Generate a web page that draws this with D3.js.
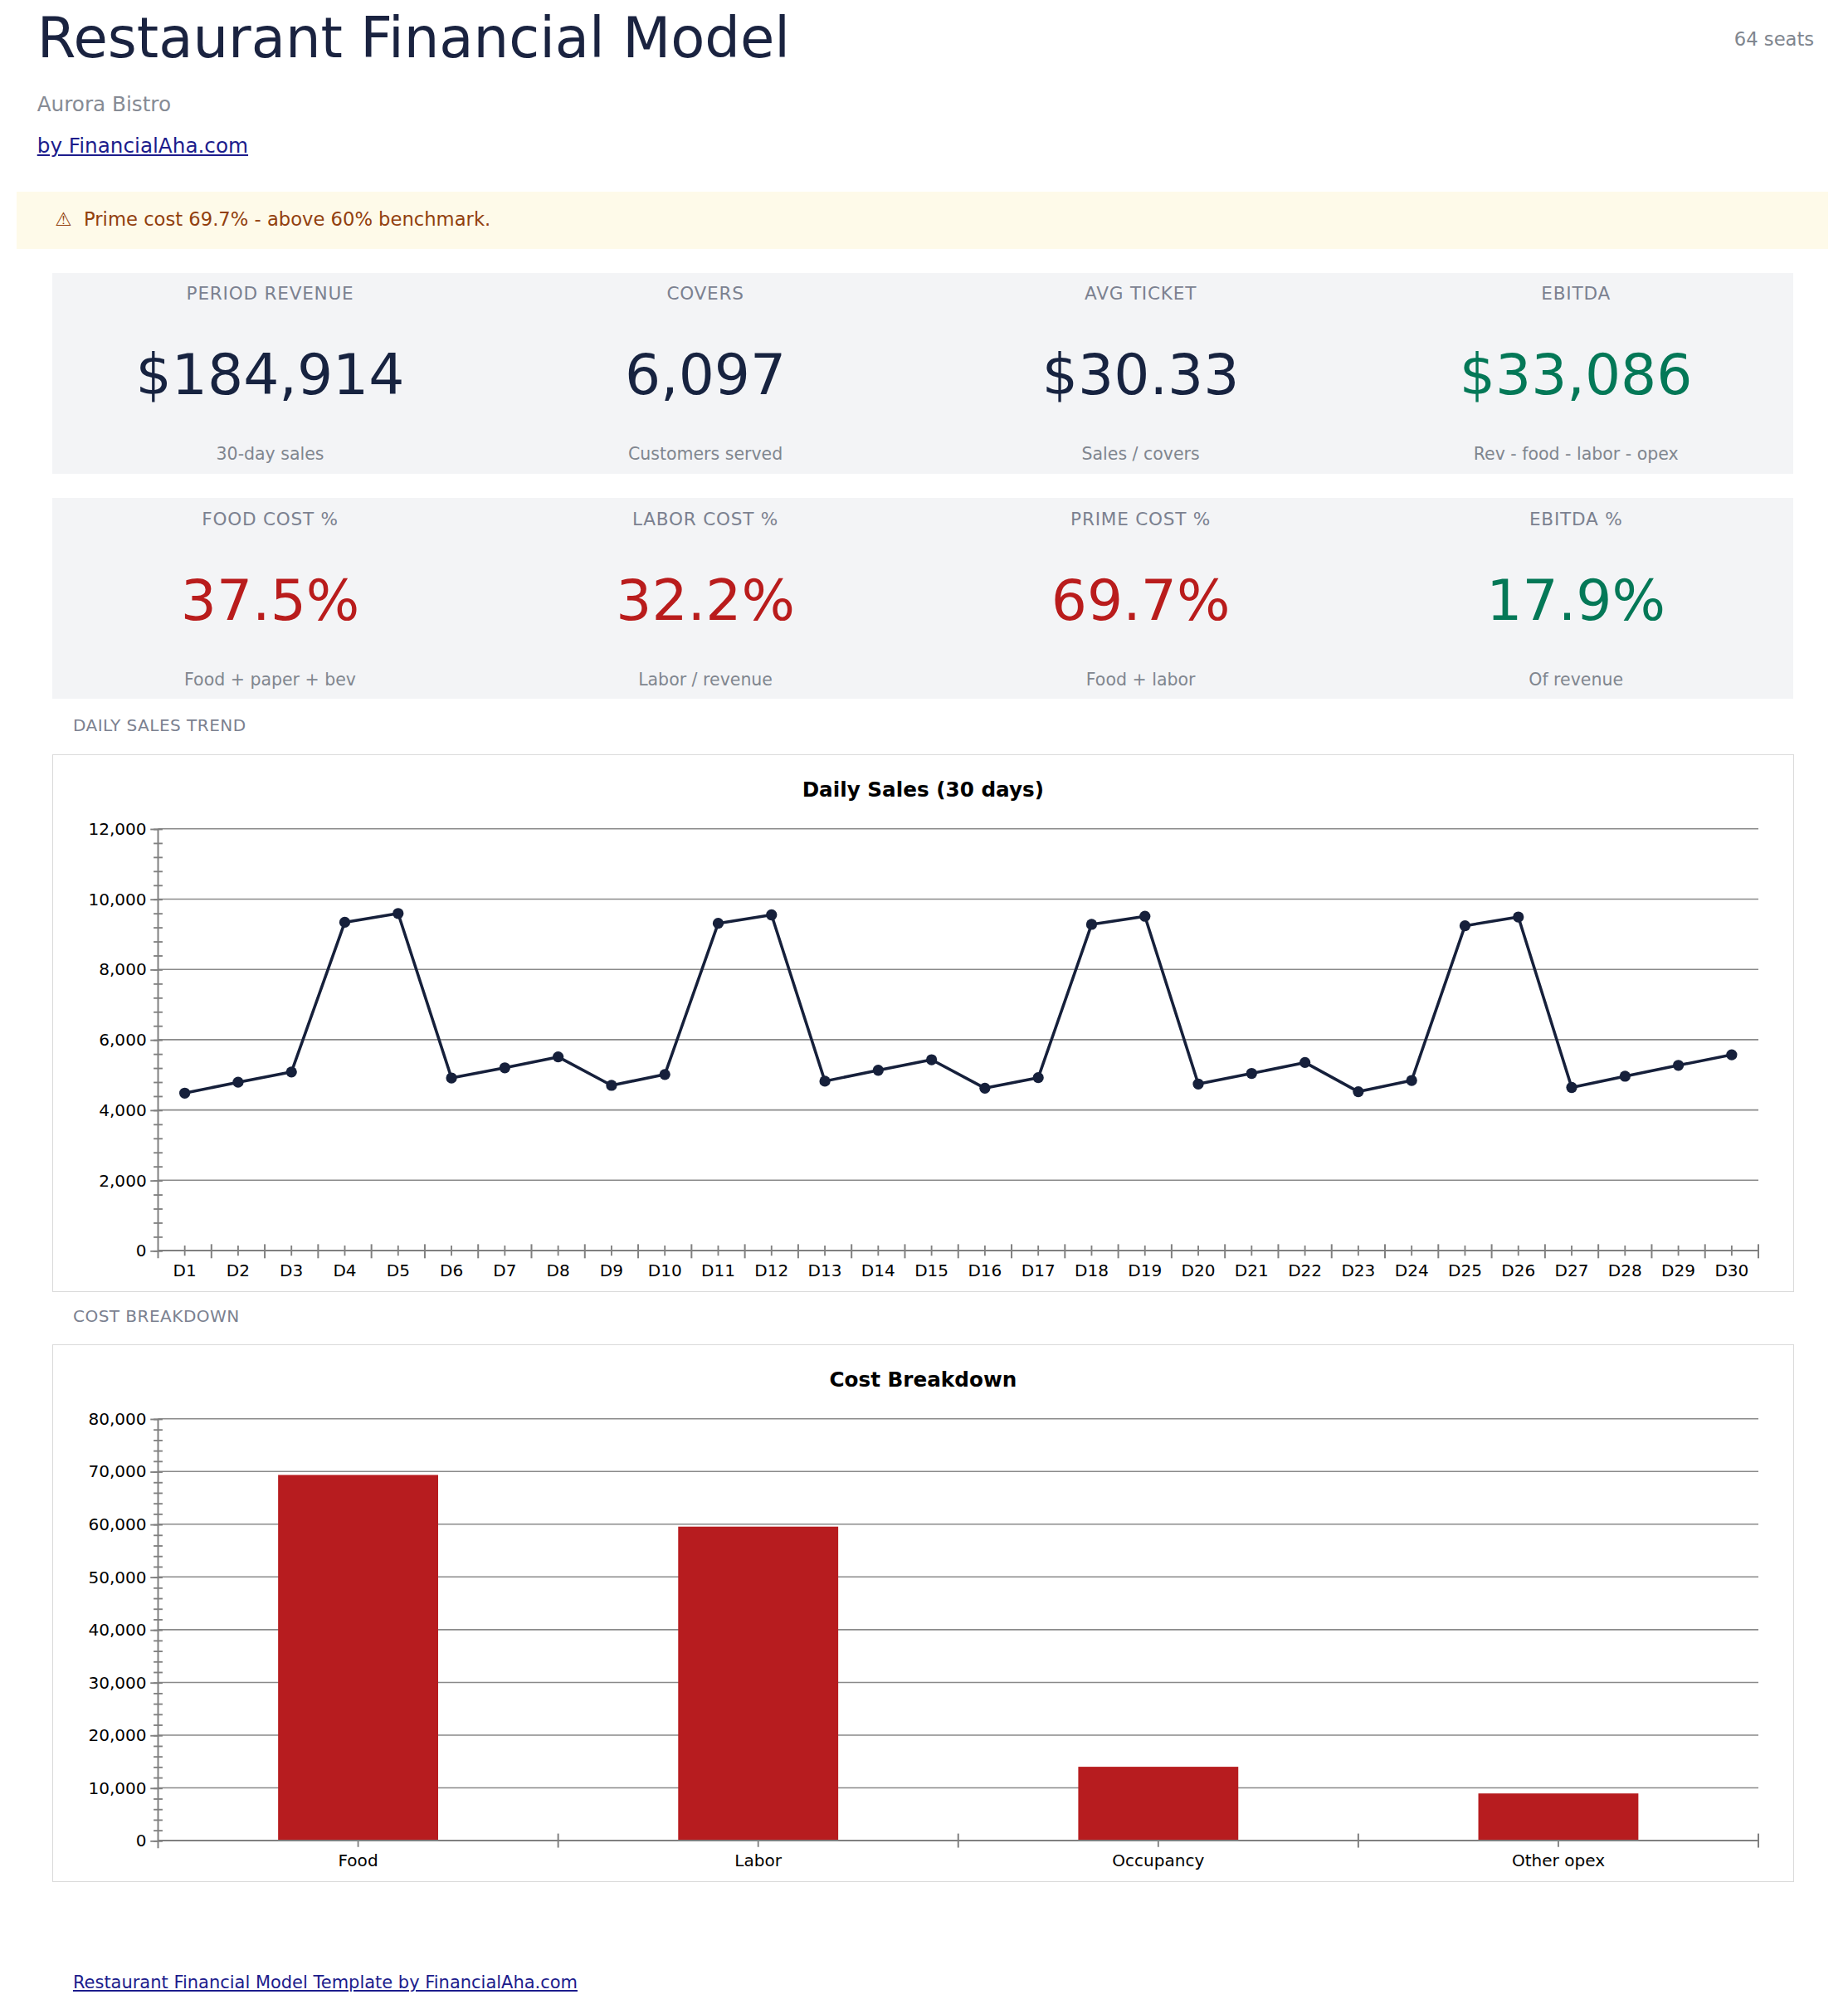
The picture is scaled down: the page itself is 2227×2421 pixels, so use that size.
<!DOCTYPE html>
<html>
<head>
<meta charset="utf-8">
<script src="https://cdn.jsdelivr.net/npm/d3@7"></script>
<style>
html,body{margin:0;padding:0;background:#fff;}
body{zoom:1.5428;font-family:"DejaVu Sans",sans-serif;}
#page{position:relative;width:1444px;height:1570px;overflow:hidden;}
.abs{position:absolute;white-space:nowrap;}
.card{position:absolute;left:41px;width:1360px;height:157px;background:#f3f4f6;}
.col{position:absolute;top:0;width:340px;height:157px;text-align:center;}
.lab{position:absolute;left:0;width:340px;top:7px;line-height:20px;font-size:14px;letter-spacing:0.5px;color:#7b8190;}
.val{position:absolute;left:0;width:340px;top:55px;line-height:50px;font-size:44px;}
.note{position:absolute;left:0;width:340px;top:132px;line-height:20px;font-size:13.3px;color:#80868f;}
.sect{position:absolute;left:57px;font-size:13px;letter-spacing:0.3px;color:#7b8190;line-height:20px;}
.frame{position:absolute;left:41px;width:1359px;height:419px;border:1px solid #dadada;background:#fff;}
a{color:#1c1c8c;}
</style>
</head>
<body>
<div id="page"></div>
<script>
// kpi cards
var kpiLabels = ["PERIOD REVENUE", "COVERS", "AVG TICKET", "EBITDA",
                 "FOOD COST %", "LABOR COST %", "PRIME COST %", "EBITDA %"];
var kpiValues = ["$184,914", "6,097", "$30.33", "$33,086",
                 "37.5%", "32.2%", "69.7%", "17.9%"];
var kpiNotes = ["30-day sales", "Customers served", "Sales / covers", "Rev - food - labor - opex",
                "Food + paper + bev", "Labor / revenue", "Food + labor", "Of revenue"];
var kpiTone = ["plain", "plain", "plain", "good", "bad", "bad", "bad", "good"];

// daily sales
var days = ["D1","D2","D3","D4","D5","D6","D7","D8","D9","D10",
            "D11","D12","D13","D14","D15","D16","D17","D18","D19","D20",
            "D21","D22","D23","D24","D25","D26","D27","D28","D29","D30"];
var dailySales = [4480, 4790, 5080, 9340, 9590, 4910, 5200, 5510, 4700, 5010,
                  9310, 9550, 4820, 5130, 5430, 4620, 4920, 9280, 9510, 4740,
                  5040, 5350, 4520, 4840, 9240, 9490, 4640, 4960, 5270, 5570];

// cost breakdown
var costCats = ["Food", "Labor", "Occupancy", "Other opex"];
var costValues = [69343, 59542, 14000, 8943];

var toneColor = {plain: "#172340", good: "#047857", bad: "#b91c1c"};

var page = d3.select("#page");

// header
page.append("div").attr("class", "abs")
    .style("left", "29px").style("top", "5px").style("line-height", "50px")
    .style("font-size", "43.6px").style("color", "#1a2340")
    .text("Restaurant Financial Model");
page.append("div").attr("class", "abs")
    .style("right", "27px").style("top", "21px").style("line-height", "20px")
    .style("font-size", "14.7px").style("color", "#80868f")
    .text("64 seats");
page.append("div").attr("class", "abs")
    .style("left", "29px").style("top", "72px").style("line-height", "20px")
    .style("font-size", "16px").style("color", "#868b95")
    .text("Aurora Bistro");
page.append("div").attr("class", "abs")
    .style("left", "29px").style("top", "104.5px").style("line-height", "20px")
    .style("font-size", "16px")
  .append("a").attr("href", "#").text("by FinancialAha.com");

// warning banner
page.append("div").attr("class", "abs")
    .style("left", "13px").style("top", "149.5px")
    .style("width", "1415px").style("height", "45px").style("background", "#fefae9")
  .append("div").attr("class", "abs")
    .style("left", "30px").style("top", "12px").style("line-height", "20px")
    .style("font-size", "14.7px").style("color", "#92400e")
    .text("\u26A0  Prime cost 69.7% - above 60% benchmark.").style("white-space", "pre");

// kpi cards, two rows of four
[213, 389].forEach(function(top, r){
    var card = page.append("div").attr("class", "card").style("top", top + "px");
    var cols = card.selectAll(".col")
        .data(d3.range(4).map(function(c){ return r * 4 + c; }))
        .enter()
      .append("div")
        .attr("class", "col")
        .style("left", function(d, i){ return (i * 340) + "px"; });
    cols.append("div").attr("class", "lab").text(function(d){ return kpiLabels[d]; });
    cols.append("div").attr("class", "val")
        .style("color", function(d){ return toneColor[kpiTone[d]]; })
        .text(function(d){ return kpiValues[d]; });
    cols.append("div").attr("class", "note").text(function(d){ return kpiNotes[d]; });
});

page.append("div").attr("class", "sect").style("top", "557px").text("DAILY SALES TREND");
page.append("div").attr("class", "sect").style("top", "1018px").text("COST BREAKDOWN");

page.append("div").attr("class", "abs")
    .style("left", "57px").style("top", "1539px").style("line-height", "20px")
    .style("font-size", "13.6px")
  .append("a").attr("href", "#").text("Restaurant Financial Model Template by FinancialAha.com");

var W = 1359, H = 419, L = 82, R = 1332, T = 57.5, B = 387;
var axisGrey = "#808080";

function makeChart(top, title){
    var svg = page.append("div").attr("class", "frame").style("top", top + "px")
      .append("svg").attr("width", W).attr("height", H)
        .style("display", "block")
        .style("font-family", "'DejaVu Sans', sans-serif");
    svg.append("text")
        .attr("x", W / 2).attr("y", 26.5).attr("dy", "0.36em")
        .attr("text-anchor", "middle")
        .style("font-size", "16px").style("font-weight", "bold").style("fill", "#000")
        .text(title);
    return svg;
}

function styleAxis(g){
    g.select(".domain").remove();
    g.selectAll(".tick line").attr("stroke", axisGrey).attr("stroke-width", 1.2);
    g.selectAll(".tick text").style("font-size", "13px").style("font-family", "'DejaVu Sans', sans-serif").attr("fill", "#000");
}

function yAxes(svg, y, maxV, majorStep, minorStep){
    var major = d3.range(0, maxV + 1, majorStep);
    svg.selectAll(".grid")
        .data(major)
        .enter()
      .append("line")
        .attr("class", "grid")
        .attr("x1", L).attr("x2", R)
        .attr("y1", function(d){ return y(d); })
        .attr("y2", function(d){ return y(d); })
        .attr("stroke", "#8a8a8a").attr("stroke-width", 1);
    svg.append("g").attr("transform", "translate(" + L + ",0)")
        .call(d3.axisLeft(y).tickValues(major).tickSize(6).tickPadding(3).tickFormat(d3.format(",")))
        .call(styleAxis);
    svg.append("g").attr("transform", "translate(" + (L + 3.5) + ",0)")
        .call(d3.axisLeft(y).tickValues(d3.range(0, maxV + 1, minorStep)).tickSize(7).tickFormat(""))
        .call(styleAxis);
}

function axisLines(svg, y){
    svg.append("line")
        .attr("x1", L).attr("x2", L).attr("y1", y(0) + 6).attr("y2", T)
        .attr("stroke", axisGrey).attr("stroke-width", 1.3);
    svg.append("line")
        .attr("x1", L).attr("x2", R).attr("y1", y(0)).attr("y2", y(0))
        .attr("stroke", axisGrey).attr("stroke-width", 1.3);
}

// ---- daily sales line chart
var svg1 = makeChart(589, "Daily Sales (30 days)");
var x1 = d3.scaleBand().domain(days).range([L, R]);
var y1 = d3.scaleLinear().domain([0, 12000]).range([B, T]);

yAxes(svg1, y1, 12000, 2000, 400);
axisLines(svg1, y1);

svg1.append("g").attr("transform", "translate(0," + (B - 4) + ")")
    .call(d3.axisBottom(x1).tickSize(8).tickFormat(""))
    .call(styleAxis);
svg1.append("g").attr("transform", "translate(0," + B + ")")
    .call(d3.axisBottom(x1).tickSize(0).tickPadding(11))
    .call(styleAxis);
svg1.selectAll(".bound")
    .data(days.slice(1).map(function(d){ return x1(d); }).concat([x1.range()[1]]))
    .enter()
  .append("line")
    .attr("class", "bound")
    .attr("x1", function(d){ return d; }).attr("x2", function(d){ return d; })
    .attr("y1", B - 5).attr("y2", B + 6)
    .attr("stroke", axisGrey).attr("stroke-width", 1.3);

var pts = days.map(function(d, i){ return {day: d, v: dailySales[i]}; });
var cx = function(d){ return x1(d.day) + x1.bandwidth() / 2; };
svg1.append("path")
    .datum(pts)
    .attr("fill", "none")
    .attr("stroke", "#16203b")
    .attr("stroke-width", 2.3)
    .attr("stroke-linejoin", "round")
    .attr("d", d3.line().x(cx).y(function(d){ return y1(d.v); }));
svg1.selectAll(".dot")
    .data(pts)
    .enter()
  .append("circle")
    .attr("class", "dot")
    .attr("cx", cx)
    .attr("cy", function(d){ return y1(d.v); })
    .attr("r", 4.3)
    .attr("fill", "#16203b");

// ---- cost breakdown bar chart
var svg2 = makeChart(1050, "Cost Breakdown");
var x2 = d3.scaleBand().domain(costCats).range([L, R]).paddingInner(0.6).paddingOuter(0.3);
var y2 = d3.scaleLinear().domain([0, 80000]).range([B, T]);

yAxes(svg2, y2, 80000, 10000, 2000);

svg2.selectAll(".bar")
    .data(costCats)
    .enter()
  .append("rect")
    .attr("class", "bar")
    .attr("x", function(d){ return x2(d); })
    .attr("width", x2.bandwidth())
    .attr("y", function(d, i){ return y2(costValues[i]); })
    .attr("height", function(d, i){ return y2(0) - y2(costValues[i]); })
    .attr("fill", "#b71c1f");

axisLines(svg2, y2);

svg2.append("g").attr("transform", "translate(0," + B + ")")
    .call(d3.axisBottom(x2).tickSize(5).tickFormat(""))
    .call(styleAxis);
svg2.append("g").attr("transform", "translate(0," + B + ")")
    .call(d3.axisBottom(x2).tickSize(0).tickPadding(11))
    .call(styleAxis);
svg2.selectAll(".bound")
    .data(costCats.slice(1).map(function(d){ return x2(d) + x2.bandwidth() / 2 - x2.step() / 2; }).concat([x2.range()[1]]))
    .enter()
  .append("line")
    .attr("class", "bound")
    .attr("x1", function(d){ return d; }).attr("x2", function(d){ return d; })
    .attr("y1", B - 5.5).attr("y2", B + 5.5)
    .attr("stroke", axisGrey).attr("stroke-width", 1.3);
</script>
</body>
</html>
